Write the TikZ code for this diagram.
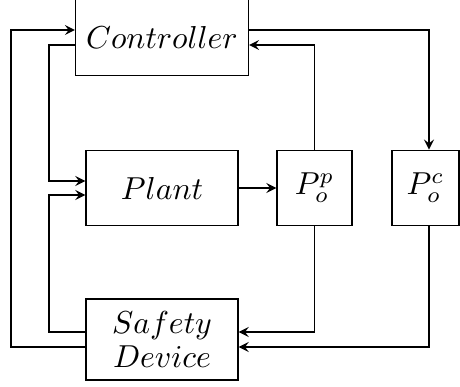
\documentclass[tikz,border=0pt]{standalone}
\usepackage{amsmath}
\usetikzlibrary{positioning}

\begin{document}
\begin{tikzpicture}[x=0.315pt, y=-0.315pt,
    block/.style={draw, minimum height=23.8pt, inner sep=3.33pt},
    link/.style={-stealth}]
  \useasboundingbox (0,0) rectangle (460,387);

  % boxes
  \node[block] (ctrl) at (162,37.5) {$Controller$};
  \node[block, minimum width=47.9pt] (plant) at (162,188) {$Plant$};
  \node[block, minimum width=23.6pt] (ppo) at (314.5,188) {$P_o^p$};
  \node[block, minimum width=21.1pt] (pco) at (425.5,188) {$P_o^c$};
  \node[block, minimum width=47.9pt, minimum height=25.5pt, align=center] (safe) at (162,339.5) {$Safety$\\[-1pt]$Device$};

  % lanes on the left
  \coordinate (laneA) at (49,110);
  \coordinate (laneB) at (49,260);
  \coordinate (laneC) at (11,200);

  \draw[link] ([yshift=2.36pt]ctrl.east) -| ([xshift=1.1pt]pco.north);
  \draw[link] (ppo.north) |- ([yshift=-2.36pt]ctrl.east);
  \draw[link] (plant) -- (ppo);
  \draw[link] ([yshift=-2.36pt]ctrl.west) -| (laneA) |- ([yshift=2.2pt]plant.west);
  \draw[link] ([yshift=2.36pt]safe.west) -| (laneB) |- ([yshift=-2.2pt]plant.west);
  \draw[link] ([yshift=-2.36pt]safe.west) -| (laneC) |- ([yshift=2.36pt]ctrl.west);
  \draw[link] (ppo.south) |- ([yshift=2.36pt]safe.east);
  \draw[link] ([xshift=1.1pt]pco.south) |- ([yshift=-2.36pt]safe.east);
\end{tikzpicture}
\end{document}
